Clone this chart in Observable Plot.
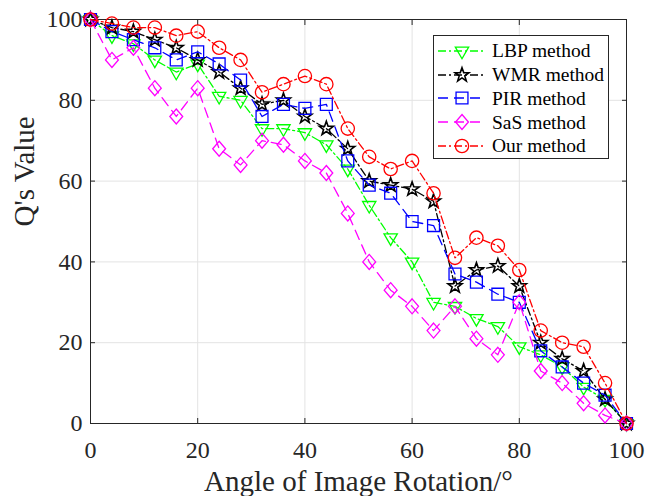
<!DOCTYPE html>
<html><head><meta charset="utf-8">
<script src="https://cdn.jsdelivr.net/npm/d3@7"></script>
<script src="https://cdn.jsdelivr.net/npm/@observablehq/plot@0.6"></script>
<style>
body{margin:0;background:#fff;}
#wrap{position:relative;width:646px;height:496px;font-family:"Liberation Serif","Times New Roman",serif;}
#legend{position:absolute;left:433px;top:35px;width:176px;height:124px;border:1px solid #262626;background:#fff;box-sizing:border-box;padding-top:3px;}
.row{display:flex;align-items:center;height:23.8px;}
.row svg{margin-left:3px;margin-right:5px;}
.row span{font-family:"Liberation Serif","Times New Roman",serif;font-size:19.5px;color:#000;line-height:1;}
</style></head><body><div id="wrap"><div id="legend"></div></div>
<script>
const angles = [0,4,8,12,16,20,24,28,32,36,40,44,48,52,56,60,64,68,72,76,80,84,88,92,96,100];
const lbp  = [100,96,94,90,87,89,81,80,73,73,72,69,63,54,46,40,30,29,26,24,19,17,14,9,6,0];
const wmr  = [100,98,97,95,93,90,87,83,79,80,76,73,68,60,59,58,55,34,38,39,34,20,16,13,6,0];
const pir  = [100,97,95,93,90,92,89,85,76,79,78,79,65,59,57,50,49,37,35,32,30,18,14,10,7,0];
const sas  = [100,90,93,83,76,83,68,64,70,69,65,62,52,40,33,29,23,29,21,17,30,13,10,5,2,0];
const ours = [100,99,98,98,96,97,93,90,82,84,86,84,73,66,63,65,57,41,46,44,38,23,20,19,10,0];
const methodNames = ["LBP method","WMR method","PIR method","SaS method","Our method"];
const xTicks = [0,20,40,60,80,100];
const yTicks = [0,20,40,60,80,100];

const rad = s => Math.sqrt(s/Math.PI);
const symTriDown = {draw(c,s){const R=rad(s)*1.1,h=R*Math.sin(Math.PI/3);c.moveTo(0,R);c.lineTo(-h,-R/2);c.lineTo(h,-R/2);c.closePath();}};
const symStar = {draw(c,s){const R=rad(s)*1.05,r=R*0.4;for(let i=0;i<10;i++){const a=-Math.PI/2+i*Math.PI/5,q=i%2?r:R;const x=q*Math.cos(a),y=q*Math.sin(a);i?c.lineTo(x,y):c.moveTo(x,y);}c.closePath();}};
const symSquare = {draw(c,s){const h=rad(s)*0.85;c.moveTo(-h,-h);c.lineTo(h,-h);c.lineTo(h,h);c.lineTo(-h,h);c.closePath();}};
const symDiamond = {draw(c,s){const r=rad(s),a=r*1.07,b=r*0.92;c.moveTo(0,-a);c.lineTo(b,0);c.lineTo(0,a);c.lineTo(-b,0);c.closePath();}};
const symCircle = {draw(c,s){const r=rad(s)*0.95;c.moveTo(r,0);c.arc(0,0,r,0,2*Math.PI);c.closePath();}};

const dashDot = "8,3,2,3", dashed = "10,6";
const series = [
  {name: methodNames[0], values: lbp,  color: "#00ff00", dash: dashDot, symbol: symTriDown, sw: 1.3},
  {name: methodNames[1], values: wmr,  color: "#000000", dash: dashDot, symbol: symStar, sw: 1.6},
  {name: methodNames[2], values: pir,  color: "#0000ff", dash: dashed,  symbol: symSquare, sw: 1.3},
  {name: methodNames[3], values: sas,  color: "#ff00ff", dash: dashed,  symbol: symDiamond, sw: 1.3},
  {name: methodNames[4], values: ours, color: "#ff0000", dash: dashDot, symbol: symCircle, sw: 1.3}
];

const seriesMarks = series.flatMap(s => {
  const data = angles.map((a,i) => ({angle: a, value: s.values[i]}));
  return [
    Plot.line(data, {x: "angle", y: "value", stroke: s.color, strokeWidth: 1.3, strokeDasharray: s.dash}),
    Plot.dot(data, {x: "angle", y: "value", stroke: s.color, fill: "none", strokeWidth: s.sw, r: 7, symbol: s.symbol})
  ];
});

const chart = Plot.plot({
  width: 646, height: 496,
  marginLeft: 90, marginRight: 20, marginTop: 19, marginBottom: 73,
  x: {domain: [0,100]},
  y: {domain: [0,100]},
  style: {fontFamily: "'Liberation Serif','Times New Roman',serif", fontSize: "24px", color: "#262626", background: "white"},
  marks: [
    Plot.gridX(xTicks, {stroke: "#e3e3e3", strokeOpacity: 1, strokeWidth: 1}),
    Plot.gridY(yTicks, {stroke: "#e3e3e3", strokeOpacity: 1, strokeWidth: 1}),
    Plot.frame({stroke: "#262626", strokeWidth: 1}),
    Plot.axisX(xTicks, {anchor: "bottom", tickSize: -5, tickPadding: 22, label: null, fill: "#262626", stroke: "#262626"}),
    Plot.axisX(xTicks, {anchor: "top", tickSize: -5, tickFormat: () => "", label: null, stroke: "#262626"}),
    Plot.axisY(yTicks, {anchor: "left", tickSize: -5, tickPadding: 13, label: null, fill: "#262626", stroke: "#262626"}),
    Plot.axisY(yTicks, {anchor: "right", tickSize: -5, tickFormat: () => "", label: null, stroke: "#262626"}),
    ...seriesMarks,
    Plot.text(["Angle of Image Rotation/°"], {frameAnchor: "bottom", dy: 58, fontSize: 29, fill: "#262626", lineAnchor: "middle"}),
    Plot.text(["Q's Value"], {frameAnchor: "left", dx: -66, dy: 5, rotate: -90, fontSize: 29, fill: "#262626", lineAnchor: "middle"})
  ]
});
const wrap = document.getElementById("wrap");
wrap.insertBefore(chart, wrap.firstChild);

const legend = document.getElementById("legend");
series.forEach(s => {
  const row = document.createElement("div");
  row.className = "row";
  const svg = d3.create("svg").attr("width", 50).attr("height", 22);
  svg.append("line").attr("x1", 1).attr("x2", 49).attr("y1", 11).attr("y2", 11)
    .attr("stroke", s.color).attr("stroke-width", 1.3).attr("stroke-dasharray", s.dash);
  svg.append("path").attr("d", d3.symbol(s.symbol, Math.PI*49)()).attr("transform", "translate(25,11)")
    .attr("fill", "none").attr("stroke", s.color).attr("stroke-width", s.sw);
  row.appendChild(svg.node());
  const t = document.createElement("span");
  t.textContent = s.name;
  row.appendChild(t);
  legend.appendChild(row);
});
</script>
</body></html>
